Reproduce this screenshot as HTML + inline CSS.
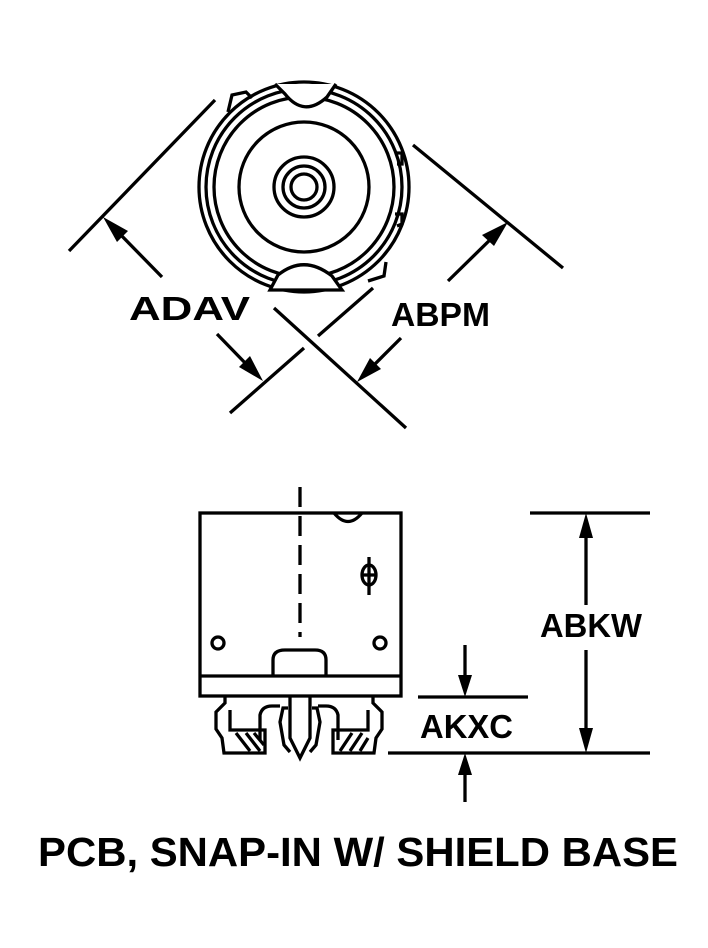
<!DOCTYPE html>
<html><head><style>body{margin:0;background:#fff}svg{display:block}</style></head><body>
<svg width="708" height="948" viewBox="0 0 708 948" xmlns="http://www.w3.org/2000/svg" font-family="Liberation Sans, sans-serif" font-weight="bold">
<g fill="none" stroke="#000" stroke-width="3.3">
<!-- top view -->
<path d="M228 112 L232 95 L246 92 L252 98" fill="#fff"/>
<path d="M386 262 L384 276 L368 281"/>
<circle cx="304" cy="187" r="105"/>
<circle cx="304" cy="187" r="98"/>
<circle cx="304" cy="187" r="90"/>
<circle cx="304" cy="187" r="65"/>
<circle cx="304" cy="187" r="30"/>
<circle cx="304" cy="187" r="21"/>
<circle cx="304" cy="187" r="13"/>
<path d="M275 84 L285 94 Q304 118 327 97 L336 84" fill="#fff"/>
<path d="M270 290 L278 275 Q304 254 332 276 L342 290 Z" fill="#fff"/>
<path d="M395 153 L402 153 L402 164 L397 164"/>
<path d="M395 214 L402 214 L402 224 L397 226"/>
<!-- dimension lines -->
<line x1="69" y1="251" x2="215" y2="100"/>
<line x1="413" y1="145" x2="563" y2="268"/>
<line x1="274" y1="308" x2="406" y2="428"/>
<line x1="230" y1="413" x2="304" y2="348"/>
<line x1="318" y1="336" x2="373" y2="288"/>
<line x1="115" y1="229" x2="162" y2="277"/>
<line x1="217" y1="334" x2="250" y2="368"/>
<line x1="497" y1="233" x2="448" y2="281"/>
<line x1="401" y1="338" x2="370" y2="369"/>
<!-- side view -->
<rect x="200" y="513" width="201" height="183"/>
<line x1="200" y1="676" x2="401" y2="676"/>
<line x1="300" y1="487" x2="300" y2="637" stroke-dasharray="20 9"/>
<path d="M334 513 Q348 530 362 513"/>
<ellipse cx="369" cy="575" rx="7" ry="10"/>
<line x1="362" y1="575" x2="376" y2="575"/>
<line x1="369" y1="557" x2="369" y2="595"/>
<circle cx="218" cy="643" r="6"/>
<circle cx="380" cy="643" r="6"/>
<path d="M273 676 L273 660 Q273 650 285 650 L315 650 Q326 650 326 660 L326 676"/>
<path d="M290 697 L290 738 L300 758 L310 738 L310 697"/>
<path d="M225 697 L225 703 L216 712 L216 729 L222 738 L224 753 L265 753 L265 730 L230 730 L230 710"/>
<path d="M373 697 L373 703 L382 712 L382 729 L376 738 L374 753 L333 753 L333 730 L368 730 L368 710"/>
<path d="M288 708 L283 708 L280 722 L284 745 L290 752"/>
<path d="M312 708 L317 708 L320 722 L316 745 L310 752"/>
<path d="M260 740 L260 715 Q262 706 272 706 L280 706"/>
<path d="M338 740 L338 715 Q336 706 326 706 L318 706"/>
<path d="M236 733 L250 751 M246 733 L260 751 M254 733 L264 745"/>
<path d="M352 733 L340 751 M362 733 L350 751 M368 738 L360 751"/>
<!-- right dims -->
<line x1="530" y1="513" x2="650" y2="513"/>
<line x1="388" y1="753" x2="650" y2="753"/>
<line x1="418" y1="697" x2="528" y2="697"/>
<line x1="586" y1="535" x2="586" y2="605"/>
<line x1="586" y1="650" x2="586" y2="732"/>
<line x1="465" y1="645" x2="465" y2="678"/>
<line x1="465" y1="772" x2="465" y2="802"/>
</g>
<g fill="#000">
<polygon points="103,217 128,231 117,242"/>
<polygon points="263,381 239,367 250,356"/>
<polygon points="508,222 482,235 494,246"/>
<polygon points="357,382 370,358 381,369"/>
<polygon points="586,513 579,538 593,538"/>
<polygon points="586,753 579,728 593,728"/>
<polygon points="465,697 458,675 472,675"/>
<polygon points="465,753 458,775 472,775"/>
</g>
<g font-size="33">
<text x="129" y="320" textLength="121" lengthAdjust="spacingAndGlyphs">ADAV</text>
<text x="391" y="326" textLength="99" lengthAdjust="spacingAndGlyphs">ABPM</text>
<text x="540" y="637" textLength="102" lengthAdjust="spacingAndGlyphs">ABKW</text>
<text x="420" y="738" textLength="93" lengthAdjust="spacingAndGlyphs">AKXC</text>
<text x="38" y="866" font-size="41" textLength="640" lengthAdjust="spacingAndGlyphs">PCB, SNAP-IN W/ SHIELD BASE</text>
</g>
</svg>
</body></html>
